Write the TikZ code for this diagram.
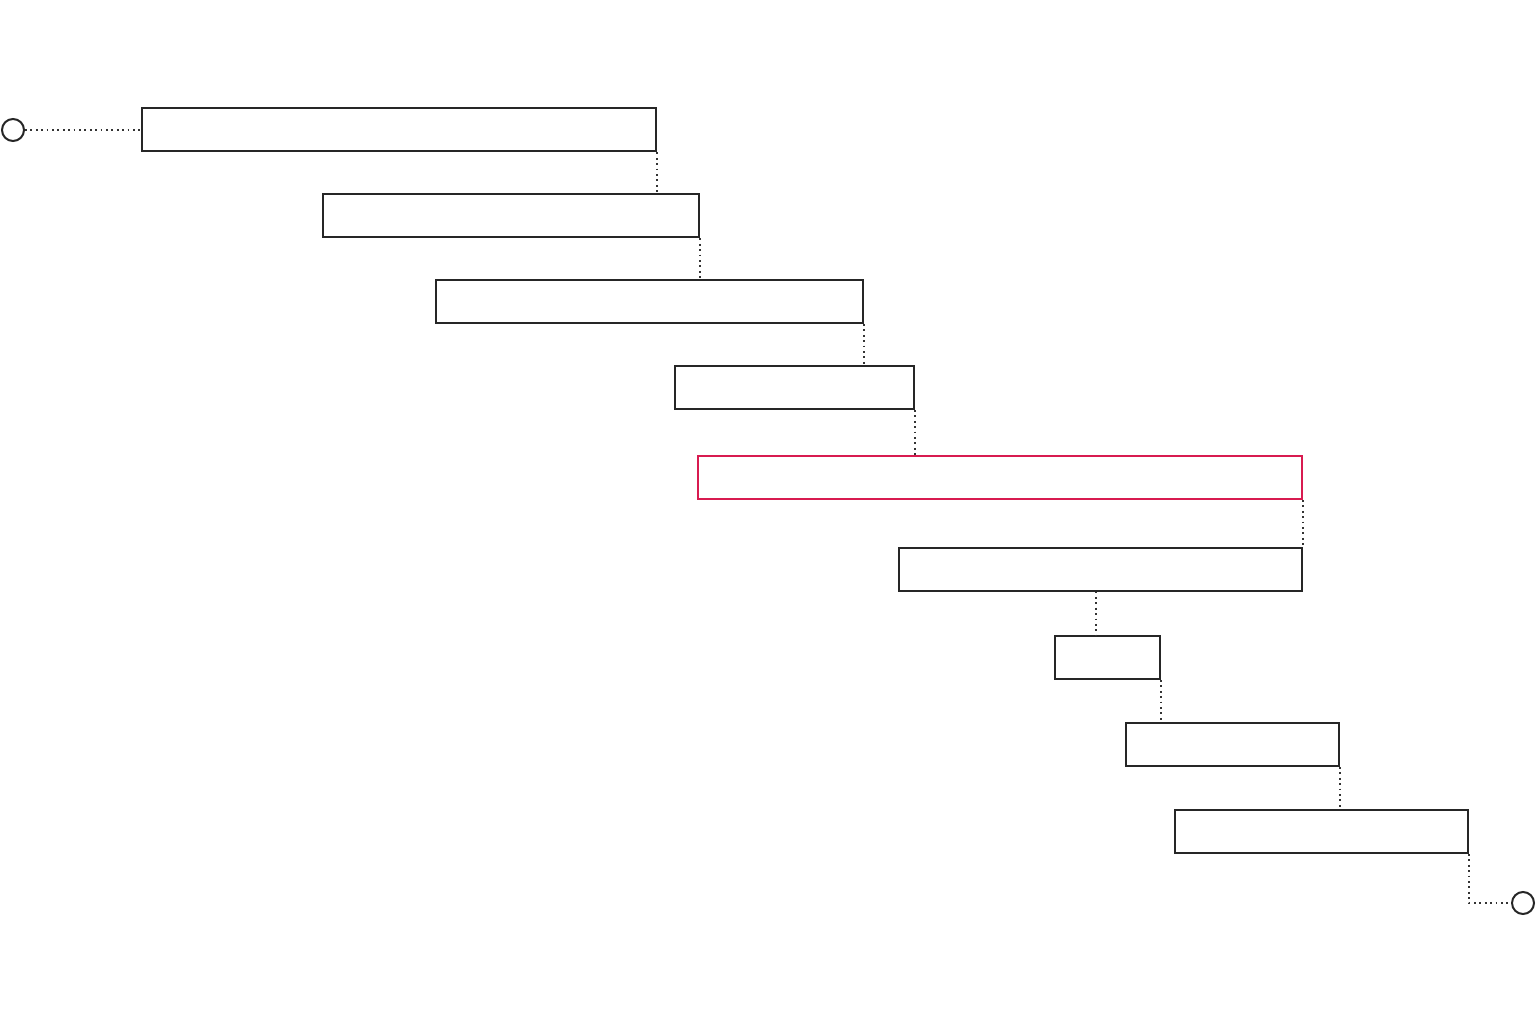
\documentclass[tikz,border=0pt]{standalone}
\usetikzlibrary{calc}
\definecolor{hlred}{HTML}{D81B50}
\begin{document}
\begin{tikzpicture}[x=1pt,y=-1pt,
  bar/.style={draw=black!85,line width=2pt,rectangle,inner sep=0pt,minimum height=43pt},
  hlbar/.style={bar,draw=hlred},
  term/.style={draw=black!85,line width=2pt,circle,inner sep=0pt,minimum size=22pt},
  link/.style={draw=black!80,line width=1.8pt,dash pattern=on 1.8pt off 3.6pt}]
\useasboundingbox (0,0) rectangle (1536,1024);
\node[term] (s) at (13,130) {};
\node[bar,minimum width=514pt] (b1) at (399,130) {};
\node[bar,minimum width=376pt] (b2) at (511,216) {};
\node[bar,minimum width=427pt] (b3) at (649.5,301.5) {};
\node[bar,minimum width=239pt] (b4) at (794.5,387.5) {};
\node[hlbar,minimum width=604pt] (b5) at (1000,477.5) {};
\node[bar,minimum width=403pt] (b6) at (1100.5,569) {};
\node[bar,minimum width=105pt] (b7) at (1107.5,657.5) {};
\node[bar,minimum width=213pt] (b8) at (1232.5,744.5) {};
\node[bar,minimum width=293pt] (b9) at (1321.5,831.5) {};
\node[term] (e) at (1523,903) {};
\coordinate (c6) at ($(b6.south)+(-4.5,0)$);
\coordinate (ce) at (b9.south east |- e);
\draw[link] (s) -- (b1);
\draw[link] (b1.south east) -- (b1.south east |- b2.north);
\draw[link] (b2.south east) -- (b2.south east |- b3.north);
\draw[link] (b3.south east) -- (b3.south east |- b4.north);
\draw[link] (b4.south east) -- (b4.south east |- b5.north);
\draw[link] (b5.south east) -- (b5.south east |- b6.north);
\draw[link] (c6) -- (c6 |- b7.north);
\draw[link] (b7.south east) -- (b7.south east |- b8.north);
\draw[link] (b8.south east) -- (b8.south east |- b9.north);
\draw[link] (b9.south east) -- (ce) -- (e);
\end{tikzpicture}
\end{document}
